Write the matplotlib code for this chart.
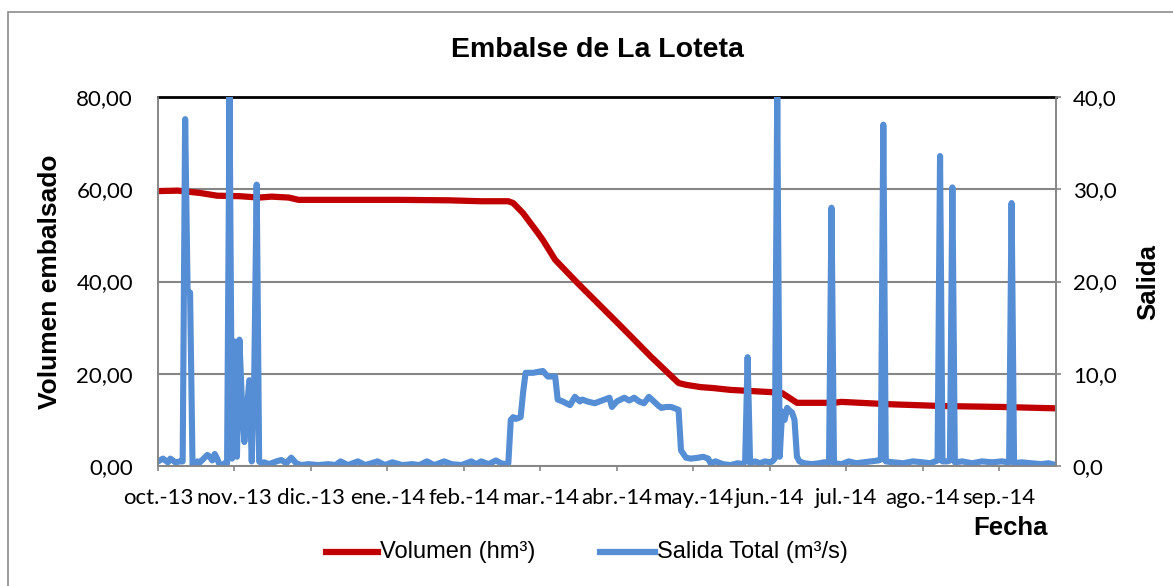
import matplotlib.pyplot as plt
from matplotlib.patches import Rectangle
from matplotlib.lines import Line2D

# day index (0 = 1 oct 2013) and values
months = ["oct.-13", "nov.-13", "dic.-13", "ene.-14", "feb.-14", "mar.-14",
          "abr.-14", "may.-14", "jun.-14", "jul.-14", "ago.-14", "sep.-14"]
month_tick = [0, 31, 62, 93, 124, 155, 186, 217, 248, 279, 310, 341]

vol_day = [0, 8, 17, 24, 33, 41, 46, 53, 57, 78, 98, 118, 131, 142, 144, 146,
           148, 154, 156, 161, 170, 185, 188, 200, 211, 214, 220, 225, 232,
           249, 253, 259, 274, 277, 296, 318, 342, 364]
vol = [59.6, 59.7, 59.2, 58.6, 58.5, 58.2, 58.4, 58.2, 57.7, 57.7, 57.7, 57.6,
       57.4, 57.4, 57.0, 55.9, 54.8, 50.5, 49.0, 44.7, 39.7, 31.7, 30.1, 23.6,
       18.0, 17.6, 17.1, 16.9, 16.5, 16.0, 15.8, 13.7, 13.7, 13.9, 13.4, 13.0,
       12.8, 12.5]

sal_day = [0, 2, 4, 5, 7, 9, 10, 11, 12, 13, 14, 15, 16, 17, 20, 21, 22, 23,
           24, 25, 26, 27, 28, 29, 30, 31, 32, 33, 34, 35, 36, 37, 38, 39, 40,
           41, 42, 43, 45, 48, 50, 52, 54, 56, 58, 61, 65, 69, 72, 74, 77, 81,
           84, 89, 92, 95, 99, 103, 106, 109, 112, 116, 119, 123, 127, 129, 131,
           134, 137, 139, 141, 142, 143, 144, 145, 146, 147, 148, 149, 152, 154,
           156, 157, 158, 161, 162, 164, 167, 169, 171, 172, 174, 177, 180, 183,
           184, 186, 189, 191, 193, 195, 197, 199, 201, 203, 204, 206, 208, 210,
           211, 212, 214, 216, 219, 221, 223, 224, 226, 229, 232, 235, 237, 238,
           239, 240, 242, 244, 246, 248, 249, 250, 251, 252, 253, 254, 255, 256,
           257, 258, 259, 260, 262, 265, 268, 270, 272, 273, 274, 277, 280, 283,
           286, 289, 292, 293, 294, 295, 298, 302, 306, 310, 313, 316, 317, 318,
           320, 321, 322, 323, 326, 330, 334, 338, 342, 345, 346, 347, 350, 354,
           358, 361, 364]
sal = [0.5, 0.8, 0.4, 0.8, 0.4, 0.5, 0.5, 37.6, 18.9, 18.8, 0.1, 0.2, 0.5, 0.4,
       1.2, 1.0, 0.6, 1.3, 0.8, 0.1, 0.0, 0.3, 0.3, 40.0, 0.8, 13.5, 1.0, 13.7,
       7.0, 2.6, 6.0, 9.3, 0.5, 9.5, 30.5, 0.5, 0.3, 0.4, 0.2, 0.5, 0.65, 0.3,
       0.9, 0.3, 0.1, 0.2, 0.1, 0.2, 0.1, 0.5, 0.1, 0.5, 0.1, 0.5, 0.1, 0.4, 0.1,
       0.2, 0.1, 0.5, 0.1, 0.5, 0.2, 0.1, 0.5, 0.2, 0.5, 0.2, 0.6, 0.3, 0.2, 0.3,
       5.0, 5.3, 5.1, 5.2, 5.3, 8.0, 10.1, 10.1, 10.2, 10.3, 10.0, 9.7, 9.7, 7.2,
       7.0, 6.6, 7.5, 7.0, 7.2, 7.0, 6.8, 7.1, 7.4, 6.4, 7.0, 7.4, 7.1, 7.4, 7.0,
       6.8, 7.5, 7.0, 6.5, 6.3, 6.4, 6.4, 6.2, 6.1, 1.7, 0.9, 0.8, 0.9, 1.0, 0.8,
       0.3, 0.5, 0.2, 0.1, 0.3, 0.2, 0.5, 11.8, 0.3, 0.5, 0.3, 0.5, 0.4, 0.5,
       0.8, 40.0, 1.0, 5.9, 5.0, 6.3, 6.0, 5.8, 5.0, 1.0, 0.5, 0.3, 0.2, 0.3,
       0.4, 0.4, 28.0, 0.3, 0.2, 0.5, 0.3, 0.4, 0.5, 0.6, 0.7, 37.0, 0.5, 0.4,
       0.3, 0.5, 0.4, 0.3, 0.6, 33.6, 0.5, 0.5, 0.6, 30.2, 0.4, 0.5, 0.3, 0.5,
       0.4, 0.5, 0.4, 28.5, 0.3, 0.4, 0.3, 0.2, 0.3, 0.1]

RED = "#C00000"
BLUE = "#558ED5"
GRID = "#868686"
W, H = 1173, 586

fig = plt.figure(figsize=(W / 100, H / 100), dpi=100)
fig.patches.append(Rectangle((8 / W, -0.05), 1.1, 0.05 + 1 - 12 / H,
                             transform=fig.transFigure, fill=False,
                             edgecolor="#8c8c8c", lw=1.2))

ax = fig.add_axes([158 / W, 1 - 466 / H, 898 / W, 369 / H])
ax2 = ax.twinx()

ax.plot(vol_day, vol, color=RED, lw=4.5, solid_joinstyle="round",
        solid_capstyle="round")
ax2.plot(sal_day, sal, color=BLUE, lw=4.4, solid_joinstyle="round",
         solid_capstyle="round")

ax.set_xlim(0, 364)
ax.set_ylim(0, 80)
ax2.set_ylim(0, 40)
ax.set_yticks([0, 20, 40, 60, 80])
ax2.set_yticks([0, 10, 20, 30, 40])
ax.set_yticklabels([f"{v:.2f}".replace(".", ",") for v in [0, 20, 40, 60, 80]])
ax2.set_yticklabels([f"{v:.1f}".replace(".", ",") for v in [0, 10, 20, 30, 40]])
ax.set_xticks(month_tick)
ax.set_xticklabels(months)

for lab in ax.get_xticklabels() + ax.get_yticklabels() + ax2.get_yticklabels():
    lab.set_fontfamily("Lato")
    lab.set_fontsize(16)

ax.grid(axis="y", color=GRID, lw=1.5)
ax.set_axisbelow(True)
ax.tick_params(axis="y", length=0, pad=18)
ax.tick_params(axis="x", length=3.6, color=GRID, width=1.2, pad=12)
ax2.tick_params(axis="y", length=3.6, color=GRID, width=1.2, pad=8.5)

for a in (ax, ax2):
    for s in a.spines.values():
        s.set_color(GRID)
        s.set_linewidth(1.2)
ax.spines["top"].set_color("black")
ax.spines["top"].set_linewidth(2)
ax2.spines["top"].set_visible(False)

ax.set_ylabel("Volumen embalsado", family="Liberation Sans", weight="bold",
              size=19, labelpad=10)
ax2.set_ylabel("Salida", family="Liberation Sans", weight="bold",
               size=18.5, labelpad=14)
fig.text(1048 / W, 1 - 528 / H, "Fecha", family="Liberation Sans",
         weight="bold", size=18.5, ha="right", va="center")
fig.text(597 / W, 1 - 50 / H, "Embalse de La Loteta", family="Liberation Sans",
         weight="bold", size=20.5, ha="center", va="center")

# legend drawn by hand in figure coordinates
leg_y = 1 - 552 / H
for x0, x1, col, txt in [(326, 378, RED, "Volumen (hm³)"),
                         (600, 655, BLUE, "Salida Total (m³/s)")]:
    fig.add_artist(Line2D([x0 / W, x1 / W], [leg_y, leg_y], color=col, lw=4.5,
                          transform=fig.transFigure))
    fig.text((x1 + 2) / W, leg_y, txt, family="Liberation Sans", size=17,
             ha="left", va="center")

fig.savefig("out.png", dpi=100)
